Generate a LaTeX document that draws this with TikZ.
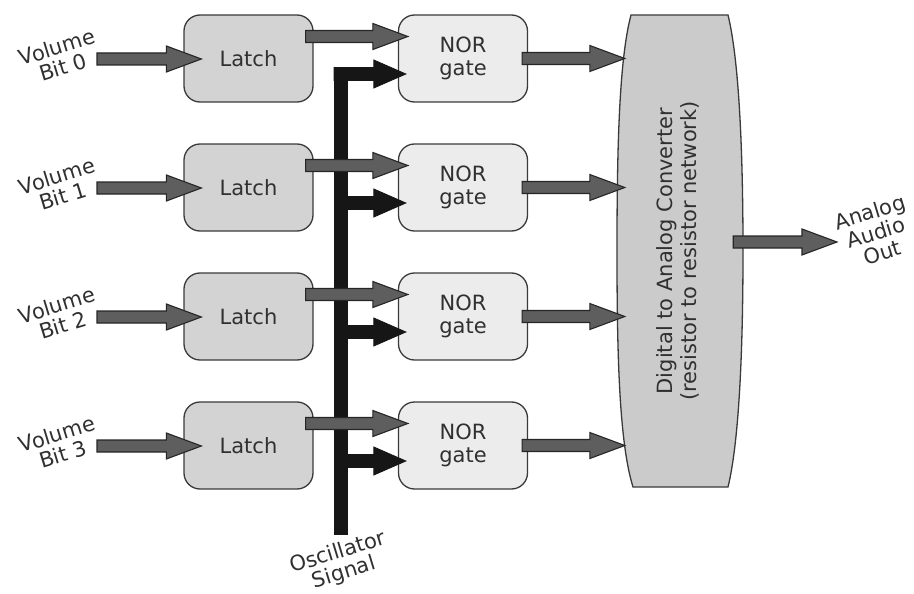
\documentclass[tikz,border=0pt]{standalone}
\usepackage{fontspec}
\usepackage{graphicx}
\setmainfont{DejaVu Sans}
\usetikzlibrary{calc,backgrounds}
\definecolor{latchfill}{HTML}{D3D3D3}
\definecolor{norfill}{HTML}{ECECEC}
\definecolor{dacfill}{HTML}{CBCBCB}
\definecolor{arrowgray}{HTML}{5E5E5E}
\definecolor{edgegray}{HTML}{3A3A3A}
\definecolor{txt}{HTML}{303030}
\definecolor{busblack}{HTML}{161616}
\tikzset{
  box/.style={draw=edgegray, line width=1.3pt, rounded corners=16pt,
    minimum width=129pt, minimum height=87pt, text=txt,
    font=\fontsize{21}{23}\selectfont, align=center, inner sep=0pt},
  latchbox/.style={box, fill=latchfill},
  norbox/.style={box, fill=norfill},
  lab/.style={text=txt, font=\fontsize{21}{21}\selectfont, align=center,
    rotate=17, inner sep=0pt},
  fatgray/.style={draw=black!85, fill=arrowgray, line width=1.1pt, line join=miter,
    to path={let \p1=(\tikztostart), \p2=(\tikztotarget) in
      (\x1,\y1+6pt) -- (\x2-35pt,\y1+6pt) -- (\x2-35pt,\y1+13pt) -- (\x2,\y1)
      -- (\x2-35pt,\y1-13pt) -- (\x2-35pt,\y1-6pt) -- (\x1,\y1-6pt) -- cycle}},
  fatblack/.style={draw=busblack, fill=busblack, line width=0.8pt, line join=miter,
    to path={let \p1=(\tikztostart), \p2=(\tikztotarget) in
      (\x1,\y1+6.5pt) -- (\x2-32pt,\y1+6.5pt) -- (\x2-32pt,\y1+14pt) -- (\x2,\y1)
      -- (\x2-32pt,\y1-14pt) -- (\x2-32pt,\y1-6.5pt) -- (\x1,\y1-6.5pt) -- cycle}}
}
\begin{document}
\begin{tikzpicture}[x=1pt,y=-1pt]
\useasboundingbox (0,0) rectangle (914,594);

% boxes
\foreach \k in {0,...,3}{
  \node[latchbox] (L\k) at (248.5,58.5+129*\k) {Latch};
  \node[norbox] (N\k) at (463,58.5+129*\k) {NOR\\gate};
  \coordinate (s\k) at (97,59+129*\k);
  \coordinate (b\k) at (341,74+129*\k);
}

% DAC
\node[inner sep=0pt, minimum width=126pt, minimum height=472pt, text=txt] (dac) at (680,251)
  {\rotatebox{90}{\fontsize{21}{24}\selectfont\renewcommand\arraystretch{1}%
   \begin{tabular}{@{}c@{}}Digital to Analog Converter\\(resistor to resistor network)\end{tabular}}};
\begin{scope}[on background layer]
\draw[fill=dacfill, draw=edgegray, line width=1.3pt]
  (631,15) -- (728,15) .. controls (739,60) and (743,150) .. (743,251)
  .. controls (743,352) and (739,442) .. (728,487) -- (633,487)
  .. controls (619,442) and (617,352) .. (617,251)
  .. controls (617,150) and (619,60) .. (631,15) -- cycle;
\end{scope}

% oscillator bus
\coordinate (osc) at (341,535);
\draw[line width=14pt, busblack] (osc) -- (b0);
\draw[fatblack] ([xshift=-7pt]b0) to ([xshift=8pt]N0.west);
\foreach \k in {1,2,3}{
  \draw[fatblack] (b\k) to ([xshift=8pt]N\k.west);
}

% gray arrows
\foreach \k in {0,...,3}{
  \draw[fatgray] (s\k) to ([xshift=18pt]L\k.west);
  \draw[fatgray] ([xshift=-8pt,yshift=22pt]L\k.east) to ([xshift=10pt]N\k.west);
  \draw[fatgray] ([xshift=-6pt]N\k.east) to ([xshift=8pt]dac.west);
}
\coordinate (out) at (837,242);
\draw[fatgray] ([xshift=-10pt,yshift=9pt]dac.east) to (out);

% labels
\foreach \k in {0,...,3}{
  \node[lab] (v\k) at (60,57+129*\k) {Volume\\Bit \k};
}
\node[lab] (osclab) at (341,563) {Oscillator\\Signal};
\node[lab] (outlab) at (876,232) {Analog\\Audio\\Out};
\end{tikzpicture}
\end{document}
